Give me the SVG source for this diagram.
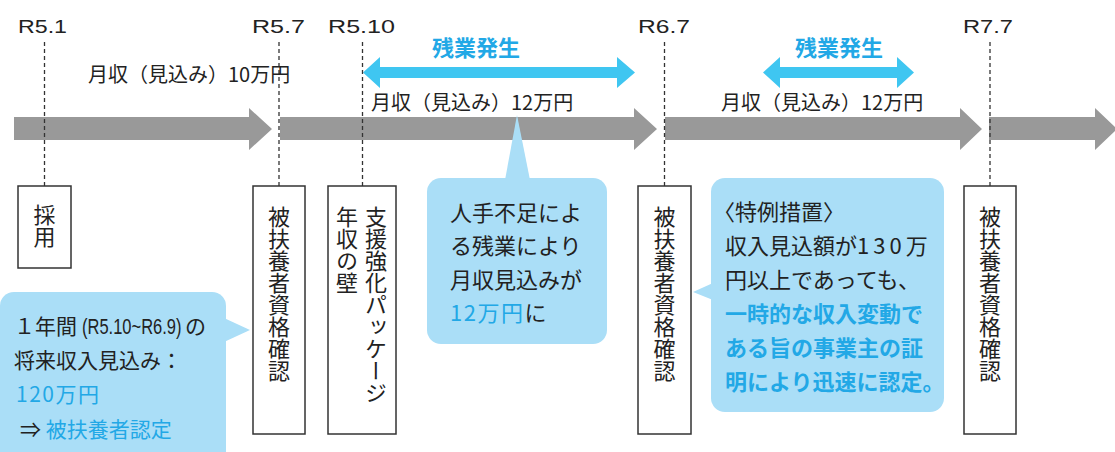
<svg xmlns="http://www.w3.org/2000/svg" width="1115" height="452" viewBox="0 0 1115 452">
<style>
  .jp { font-family: "Noto Sans CJK JP", "Noto Sans", sans-serif; fill: #222; }
  .lat { font-family: "Liberation Sans", "DejaVu Sans", sans-serif; font-size: 19px; fill: #222; }
  .vt { font-family: "Noto Sans CJK JP", sans-serif; font-size: 22px; fill: #222; writing-mode: vertical-rl; }
  .blue { fill: #22A8E6; }
  .b { font-weight: bold; }
  .tl { fill: #999999; }
  .ba { fill: #3FC6F1; }
  .call { fill: #AADEF7; }
  .box { fill: #fff; stroke: #333; stroke-width: 1.5; }
  .dash { stroke: #333; stroke-width: 1.3; stroke-dasharray: 4 3; fill: none; }
</style>
<rect width="1115" height="452" fill="#fff"/>

<g id="timeline">
  <polygon class="tl" points="14,117 249,117 249,108 272,129 249,150 249,140 14,140"/>
  <polygon class="tl" points="280,117 634,117 634,108 657,129 634,150 634,140 280,140"/>
  <polygon class="tl" points="665,117 960,117 960,108 982,129 960,150 960,140 665,140"/>
  <polygon class="tl" points="989,117 1095,117 1095,108 1117,129 1095,150 1095,140 989,140"/>
</g>

<g id="overtime">
  <polygon class="ba" points="363,72.5 380,57 380,67 617,67 617,57 635,72.5 617,88 617,78 380,78 380,88"/>
  <polygon class="ba" points="763,72.5 780,57 780,67 897,67 897,57 914,72.5 897,88 897,78 780,78 780,88"/>
  <text class="jp blue b" x="432" y="56" font-size="22">残業発生</text>
  <text class="jp blue b" x="795" y="56" font-size="22">残業発生</text>
</g>

<g id="connectors">
  <line class="dash" x1="44.5" y1="42" x2="44.5" y2="186"/>
  <line class="dash" x1="279" y1="42" x2="279" y2="186"/>
  <line class="dash" x1="362.5" y1="42" x2="362.5" y2="186"/>
  <line class="dash" x1="664.5" y1="42" x2="664.5" y2="186"/>
  <line class="dash" x1="990" y1="42" x2="990" y2="186"/>
</g>

<g id="dates">
  <text class="lat" x="18" y="33" textLength="49" lengthAdjust="spacingAndGlyphs">R5.1</text>
  <text class="lat" x="252" y="33" textLength="53" lengthAdjust="spacingAndGlyphs">R5.7</text>
  <text class="lat" x="328" y="33" textLength="67" lengthAdjust="spacingAndGlyphs">R5.10</text>
  <text class="lat" x="638" y="33" textLength="52" lengthAdjust="spacingAndGlyphs">R6.7</text>
  <text class="lat" x="963" y="33" textLength="50" lengthAdjust="spacingAndGlyphs">R7.7</text>
</g>

<g id="income">
  <text class="jp" x="88" y="82" font-size="20">月収（見込み）10万円</text>
  <text class="jp" x="371" y="110" font-size="20">月収（見込み）12万円</text>
  <text class="jp" x="721" y="110" font-size="20">月収（見込み）12万円</text>
</g>

<g id="node-hire">
  <rect class="box" x="18" y="186" width="53" height="82"/>
  <text class="vt" x="44.5" y="204">採用</text>
</g>
<g id="node-check1">
  <rect class="box" x="253" y="186" width="52" height="248"/>
  <text class="vt" x="279" y="206">被扶養者資格確認</text>
</g>
<g id="node-package">
  <rect class="box" x="328" y="186" width="68" height="248"/>
  <text class="vt" x="376" y="206">支援強化パッケージ</text>
  <text class="vt" x="347" y="206">年収の壁</text>
</g>
<g id="node-check2">
  <rect class="box" x="638" y="186" width="53" height="248"/>
  <text class="vt" x="664.5" y="206">被扶養者資格確認</text>
</g>
<g id="node-check3">
  <rect class="box" x="964" y="186" width="52" height="248"/>
  <text class="vt" x="990" y="206">被扶養者資格確認</text>
</g>

<g id="callout-annual">
  <rect class="call" x="0" y="292" width="226" height="180" rx="14"/>
  <polygon class="call" points="224,318 250,330 224,342"/>
  <text class="jp" x="14" y="334" font-size="21">１年間</text>
  <text transform="translate(82,334) scale(0.75,1)" font-family="Liberation Sans, sans-serif" font-size="22" fill="#222">(R5.10~R6.9)</text>
  <text class="jp" x="185" y="334" font-size="21">の</text>
  <text class="jp" x="14" y="368" font-size="21">将来収入見込み：</text>
  <text class="jp blue" x="16" y="402" font-size="21" letter-spacing="1.5">120万円</text>
  <text class="jp" x="20" y="437" font-size="21">⇒ <tspan class="blue">被扶養者認定</tspan></text>
</g>

<g id="callout-overtime">
  <rect class="call" x="427" y="178" width="180" height="166" rx="14"/>
  <polygon class="call" points="505,180 517,115 530,180"/>
  <text class="jp" x="450" y="221" font-size="22">人手不足によ</text>
  <text class="jp" x="450" y="254" font-size="22">る残業により</text>
  <text class="jp" x="450" y="288" font-size="22">月収見込みが</text>
  <text class="jp" x="450" y="321" font-size="22"><tspan class="blue" letter-spacing="1.5">12万円</tspan>に</text>
</g>

<g id="callout-special">
  <rect class="call" x="711" y="178" width="233" height="234" rx="14"/>
  <polygon class="call" points="713,283 693,292 713,300"/>
  <text class="jp" x="713" y="220" font-size="22">〈特例措置〉</text>
  <text class="jp" x="725" y="254" font-size="22">収入見込額が<tspan letter-spacing="4">130</tspan>万</text>
  <text class="jp" x="725" y="288" font-size="22">円以上であっても、</text>
  <text class="jp blue b" x="725" y="322" font-size="22">一時的な収入変動で</text>
  <text class="jp blue b" x="725" y="356" font-size="22">ある旨の事業主の証</text>
  <text class="jp blue b" x="725" y="390" font-size="22">明により迅速に認定。</text>
</g>
</svg>
